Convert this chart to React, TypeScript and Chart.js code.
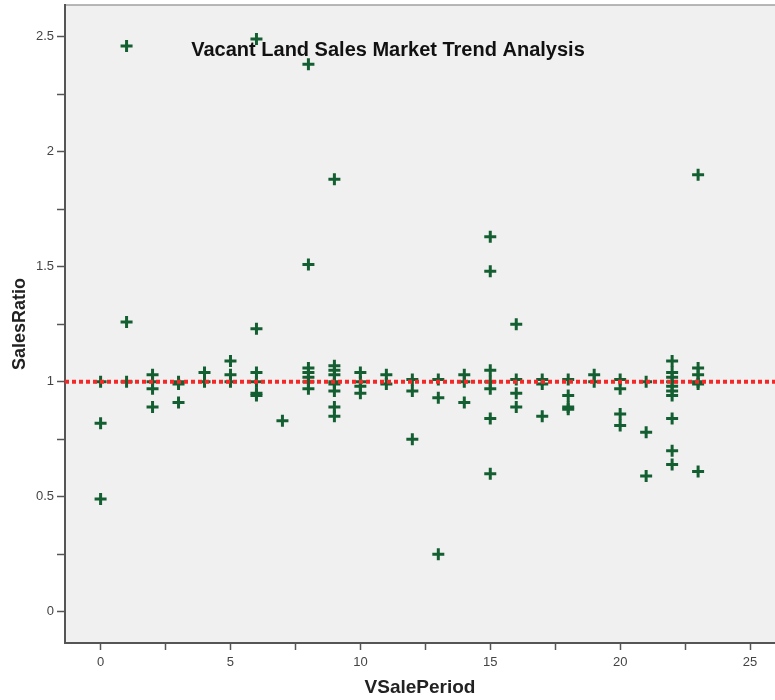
import React, { useEffect, useRef } from "react";
import { Chart, registerables } from "chart.js";

Chart.register(...registerables);

const chartTitle = "Vacant Land Sales Market Trend Analysis";
const xAxisTitle = "VSalePeriod";
const yAxisTitle = "SalesRatio";

const salePeriod = [
  0, 0, 0,
  1, 1, 1,
  2, 2, 2, 2,
  3, 3, 3,
  4, 4,
  5, 5, 5,
  6, 6, 6, 6, 6, 6,
  7,
  8, 8, 8, 8, 8, 8, 8,
  9, 9, 9, 9, 9, 9, 9, 9, 9,
  10, 10, 10, 10,
  11, 11,
  12, 12, 12,
  13, 13, 13,
  14, 14, 14,
  15, 15, 15, 15, 15, 15, 15,
  16, 16, 16, 16,
  17, 17, 17,
  18, 18, 18, 18,
  19, 19,
  20, 20, 20, 20,
  21, 21, 21,
  22, 22, 22, 22, 22, 22, 22, 22, 22, 22,
  23, 23, 23, 23, 23, 23,
];

const salesRatio = [
  1.0, 0.82, 0.49,
  2.46, 1.26, 1.0,
  1.03, 1.0, 0.97, 0.89,
  1.0, 0.99, 0.91,
  1.04, 1.0,
  1.09, 1.03, 1.0,
  2.49, 1.23, 1.04, 1.0, 0.95, 0.94,
  0.83,
  2.38, 1.51, 1.06, 1.04, 1.02, 1.0, 0.97,
  1.88, 1.07, 1.05, 1.03, 1.0, 0.99, 0.96, 0.89, 0.85,
  1.04, 1.0, 0.98, 0.95,
  1.03, 0.99,
  1.01, 0.96, 0.75,
  1.01, 0.93, 0.25,
  1.03, 1.0, 0.91,
  1.63, 1.48, 1.05, 1.0, 0.97, 0.84, 0.6,
  1.25, 1.01, 0.95, 0.89,
  1.01, 0.99, 0.85,
  1.01, 0.94, 0.89, 0.88,
  1.03, 1.0,
  1.01, 0.97, 0.86, 0.81,
  1.0, 0.78, 0.59,
  1.09, 1.04, 1.02, 1.0, 0.98, 0.96, 0.94, 0.84, 0.7, 0.64,
  1.9, 1.06, 1.03, 1.0, 0.99, 0.61,
];

const referenceRatio = 1.0;

const xMin = -1.37;
const xMax = 25.96;
const yMin = -0.136;
const yMax = 2.638;

const xMajorTicks = [0, 5, 10, 15, 20, 25];
const xMinorTicks = [2.5, 7.5, 12.5, 17.5, 22.5];
const yMajorTicks = [0, 0.5, 1, 1.5, 2, 2.5];
const yMinorTicks = [0.25, 0.75, 1.25, 1.75, 2.25];

const isMajor = (list: number[], v: number) => list.some((m) => Math.abs(m - v) < 1e-9);

export default function App() {
  const ref = useRef<HTMLCanvasElement | null>(null);

  useEffect(() => {
    document.body.style.margin = "0";
    const canvas = ref.current;
    if (!canvas) return;

    const points = salePeriod.map((x, i) => ({ x, y: salesRatio[i] }));

    const bgPlugin = {
      id: "plotBackground",
      beforeDraw(chart: any) {
        const { ctx, chartArea } = chart;
        ctx.save();
        ctx.fillStyle = "#f0f0f0";
        ctx.fillRect(chartArea.left, chartArea.top, chartArea.right - chartArea.left, chartArea.bottom - chartArea.top);
        ctx.strokeStyle = "#a0a0a0";
        ctx.lineWidth = 1.5;
        ctx.beginPath();
        ctx.moveTo(chartArea.left, chartArea.top);
        ctx.lineTo(chartArea.right, chartArea.top);
        ctx.stroke();
        ctx.restore();
      },
      beforeDatasetsDraw(chart: any) {
        const { ctx } = chart;
        ctx.save();
        ctx.fillStyle = "#111111";
        ctx.font = "bold 20px 'Liberation Sans', Arial, sans-serif";
        ctx.textAlign = "center";
        ctx.textBaseline = "middle";
        ctx.fillText(chartTitle, 388, 50);
        ctx.restore();
      },
    };

    const chart = new Chart(canvas, {
      type: "scatter",
      data: {
        datasets: [
          {
            type: "line",
            label: "Reference",
            data: [
              { x: xMin, y: referenceRatio },
              { x: xMax, y: referenceRatio },
            ],
            borderColor: "rgb(245,40,40)",
            borderWidth: 4,
            borderDash: [4, 3],
            pointRadius: 0,
            fill: false,
            order: 0,
          } as any,
          {
            label: yAxisTitle,
            data: points,
            pointStyle: "cross",
            pointRadius: 6,
            pointBorderWidth: 3,
            borderColor: "#145f32",
            backgroundColor: "#145f32",
            pointHoverRadius: 6,
            order: 1,
          } as any,
        ],
      },
      options: {
        responsive: false,
        animation: false,
        devicePixelRatio: 1,
        layout: { autoPadding: false, padding: { top: 5, left: 0, right: 0, bottom: 0 } },
        plugins: {
          legend: { display: false },
          tooltip: { enabled: false },
          title: { display: false },
        },
        scales: {
          x: {
            type: "linear",
            min: xMin,
            max: xMax,
            afterBuildTicks: (scale: any) => {
              scale.ticks = [...xMajorTicks, ...xMinorTicks].sort((a, b) => a - b).map((v) => ({ value: v }));
            },
            afterFit: (scale: any) => {
              scale.height = 57;
              scale.paddingLeft = 0;
              scale.paddingRight = 0;
            },
            grid: {
              drawOnChartArea: false,
              drawTicks: true,
              tickLength: 7,
              tickColor: "#555555",
              tickWidth: 1.5,
            },
            border: { display: true, color: "#555555", width: 2 },
            ticks: {
              autoSkip: false,
              maxRotation: 0,
              padding: 5,
              color: "#444444",
              font: { family: "'Liberation Sans', Arial, sans-serif", size: 13 },
              callback: (v: any) => (isMajor(xMajorTicks, Number(v)) ? String(v) : ""),
            },
            title: {
              display: true,
              text: xAxisTitle,
              color: "#222222",
              font: { family: "'Liberation Sans', Arial, sans-serif", size: 19, weight: "bold" },
              padding: { top: 0, bottom: 1 },
            },
          },
          y: {
            type: "linear",
            min: yMin,
            max: yMax,
            afterBuildTicks: (scale: any) => {
              scale.ticks = [...yMajorTicks, ...yMinorTicks].sort((a, b) => a - b).map((v) => ({ value: v }));
            },
            afterFit: (scale: any) => {
              scale.width = 65;
              scale.paddingTop = 0;
              scale.paddingBottom = 0;
            },
            grid: {
              drawOnChartArea: false,
              drawTicks: true,
              tickLength: 8,
              tickColor: "#555555",
              tickWidth: 1.5,
            },
            border: { display: true, color: "#555555", width: 2 },
            ticks: {
              autoSkip: false,
              padding: 3,
              color: "#444444",
              font: { family: "'Liberation Sans', Arial, sans-serif", size: 13 },
              callback: (v: any) => (isMajor(yMajorTicks, Number(v)) ? String(v) : ""),
            },
            title: {
              display: true,
              text: yAxisTitle,
              color: "#222222",
              font: { family: "'Liberation Sans', Arial, sans-serif", size: 18, weight: "bold" },
              padding: { top: 9, bottom: 0 },
            },
          },
        },
      },
      plugins: [bgPlugin],
    } as any);

    return () => chart.destroy();
  }, []);

  return <canvas ref={ref} width={775} height={700} style={{ display: "block" }} />;
}
